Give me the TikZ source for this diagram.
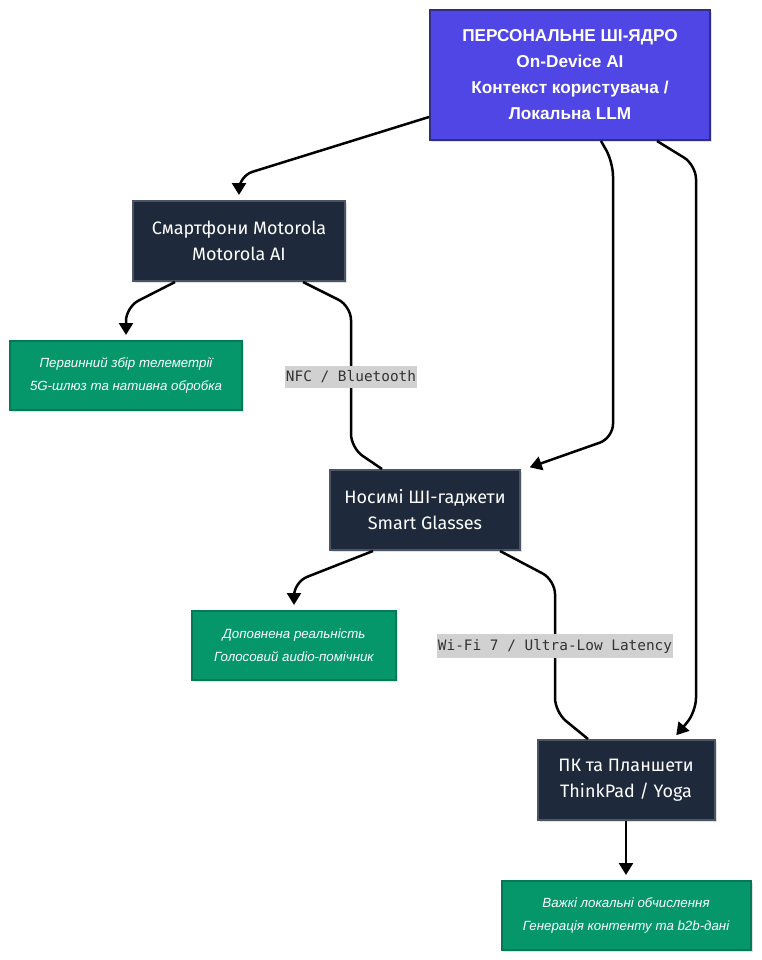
\documentclass[tikz,border=0pt]{standalone}
\usepackage{fontspec}
\setmainfont{Fira Sans}
\newfontfamily\corefont{Liberation Sans}
\newfontfamily\notefont{Liberation Sans}
\newfontfamily\linkfont{DejaVu Sans Mono}
\usetikzlibrary{arrows.meta,shadows}
\definecolor{indigo}{HTML}{4F46E5}
\definecolor{indigoline}{HTML}{312E81}
\definecolor{slate}{HTML}{1E293B}
\definecolor{slateline}{HTML}{4B5563}
\definecolor{emerald}{HTML}{059669}
\definecolor{emeraldline}{HTML}{047857}
\definecolor{chip}{HTML}{D1D1D1}
\definecolor{chiptext}{HTML}{333333}
\tikzset{basebox/.style={rectangle,line width=2pt,align=center,text=white,
    drop shadow={shadow xshift=2pt,shadow yshift=-2pt,fill=black,opacity=0.12}},
  corebox/.style={basebox,draw=indigoline,fill=indigo,
    font=\corefont\bfseries\fontsize{17.2}{26}\selectfont},
  devbox/.style={basebox,draw=slateline,fill=slate,minimum height=80pt,
    font=\fontsize{18}{26}\selectfont},
  outbox/.style={basebox,draw=emeraldline,fill=emerald,minimum height=69pt,
    font=\notefont\itshape\fontsize{13.3}{23}\selectfont},
  flow/.style={-{Triangle[length=12pt,width=14pt]},line width=2.5pt,
    rounded corners=14pt,shorten >=5pt},
  link/.style={line width=2.5pt,rounded corners=14pt},
  lbl/.style={sharp corners,fill=chip,text=chiptext,inner xsep=1pt,inner ysep=5pt,
    font=\linkfont\fontsize{14.4}{16}\selectfont}}

\begin{document}
\begin{tikzpicture}[x=1pt,y=-1pt]
\useasboundingbox[fill=white] (0,0) rectangle (761,960);
% nodes
\node[corebox,minimum width=280pt,minimum height=130pt] (core) at (570,75)
  {ПЕРСОНАЛЬНЕ ШІ-ЯДРО\\On-Device AI\\Контекст користувача /\\Локальна LLM};
\node[devbox,minimum width=212pt] (phone) at (239,241) {Смартфони Motorola\\Motorola AI};
\node[outbox,minimum width=232pt] (telemetry) at (126,375.5)
  {Первинний збір телеметрії\\5G-шлюз та нативна обробка};
\node[devbox,minimum width=190pt] (glasses) at (425,510) {Носимі ШІ-гаджети\\Smart Glasses};
\node[outbox,minimum width=204pt] (augmented) at (294,645.5)
  {Доповнена реальність\\Голосовий audio-помічник};
\node[devbox,minimum width=177pt] (pc) at (626,780) {ПК та Планшети\\ThinkPad / Yoga};
\node[outbox,minimum width=249pt] (compute) at (626,915.5)
  {Важкі локальні обчислення\\Генерація контенту та b2b-дані};
% connectors
\draw[flow] ([yshift=24pt]core.south west) -- (239,176) -- (phone.north);
\draw[flow] ([xshift=-64pt]phone.south) -- (126,307) -- (telemetry.north);
\draw[link] ([xshift=64pt]phone.south) -- (351,306) -- node[lbl] (nfc) {NFC / Bluetooth}
  (351,448) -- ([xshift=-43pt]glasses.north);
\draw[flow] ([xshift=31pt]core.south) -- (613,162) -- (613,438) -- ([xshift=4pt]glasses.north east);
\draw[flow] ([xshift=-52pt]glasses.south) -- (294,582) -- (augmented.north);
\draw[link] ([xshift=75pt]glasses.south) -- (555,580) -- node[lbl] (wifi) {Wi-Fi 7 / Ultra-Low Latency}
  (555,712) -- ([xshift=-38pt]pc.north);
\draw[flow] ([xshift=87pt]core.south) -- (696,165) -- (696,712) -- ([xshift=47pt]pc.north);
\draw[flow] (pc.south) -- (compute.north);
\end{tikzpicture}
\end{document}
